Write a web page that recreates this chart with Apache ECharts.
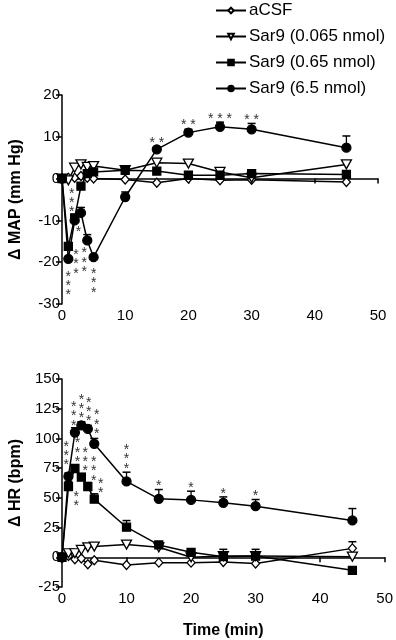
<!DOCTYPE html>
<html>
<head>
<meta charset="utf-8">
<script src="https://cdn.jsdelivr.net/npm/echarts@6/dist/echarts.min.js"></script>
<style>
html, body { margin: 0; background: #fff; }
#chart { width: 396px; height: 640px; }
</style>
</head>
<body>
<div id="chart"></div>
<script>
// time points (min)
const times = [0, 1, 2, 3, 4, 5, 10, 15, 20, 25, 30, 45];
const names = ['aCSF', 'Sar9 (0.065 nmol)', 'Sar9 (0.65 nmol)', 'Sar9 (6.5 nmol)'];

// delta MAP (mm Hg)
const mapCsf  = [0, 0.2, 0.2, 0.6, 0.2, 0, -0.2, -1, 0, -0.4, -0.3, -0.8];
const mapLow  = [0, -0.4, 2.6, 3.4, 2.8, 3, 2, 3.8, 3.6, 1.6, 0.2, 3.4];
const mapMid  = [0, -16.2, -9.4, -1.8, 1.2, 1.6, 2, 1.8, 0.8, 0.8, 1.2, 1.0];
const mapHigh = [0, -19.2, -10, -8.2, -14.8, -18.8, -4.4, 7, 11, 12.4, 11.8, 7.4];
const mapHighErr = [0, 0, 0, 1.3, 1.4, 0, 1.2, 0.6, 0.8, 1.1, 1.4, 2.8];
const mapMidErr  = [0, 0, 0.8, 0, 0, 0, 0, 0, 0, 0, 0, 0];

// delta HR (bpm)
const hrCsf  = [0, 1.1, -1.7, -1.1, -5.9, -2.5, -6.5, -4.5, -4.5, -3.9, -5.3, 7.5];
const hrLow  = [0, 3.4, 3.4, 6.2, 8.4, 9, 10.7, 8.4, 0, 1, 1, 0.5];
const hrMid  = [0, 59.5, 74.7, 67.4, 59.5, 48.9, 25.3, 10.4, 4.2, 0.5, 1, -11];
const hrHigh = [0, 68, 105, 111, 108, 95.5, 63.8, 49.2, 48.3, 45.8, 43, 31];
const hrHighErr = [0, 3, 4, 3, 3, 4.5, 7.8, 7.8, 7.3, 5, 5.6, 10];
const hrMidErr  = [0, 4.3, 3.1, 3, 3.5, 4.5, 5.6, 2.2, 2, 0, 0, 0];
const hrLowErr  = [0, 0, 0, 0, 0, 0, 2.3, 0, 0, 5.7, 5.7, 0];
const hrCsfErr  = [0, 0, 0, 0, 0, 0, 0, 0, 0, 0, 0, 5.6];

// significance marks: [time, value, text]
const mapStars = [
    [1, -25, '*\n*\n*'], [1.55, -5.2, '*\n*\n*'], [2.6, -12, '*'],
    [2.2, -19.8, '*\n*\n*'], [3.5, -19.4, '*\n*\n*'], [5, -24.4, '*\n*\n*'],
    [15, 9.2, '* *'], [20, 13.4, '* *'], [25, 15, '* * *'], [30, 14.8, '* *']
];
const hrStars = [
    [0.67, 87.6, '*\n*\n*'], [1.8, 121, '*\n*\n*'], [3, 127, '*\n*\n*'],
    [4.15, 124.7, '*\n*\n*'], [5.4, 114, '*\n*\n*'], [2.4, 90.4, '*\n*\n*'],
    [3.6, 82.6, '*\n*\n*'], [4.9, 74.7, '*\n*\n*'], [6, 60, '*\n*'],
    [2.2, 49.5, '*\n*'], [10, 84.8, '*\n*\n*'], [15, 62.4, '*'],
    [20, 60.4, '*'], [25, 55.6, '*'], [30, 54, '*']
];

const font = 'Liberation Sans, Arial, sans-serif';
const markers = [
    { symbol: 'diamond', symbolSize: [8, 9], fill: '#fff', rotate: 0 },
    { symbol: 'triangle', symbolSize: [10, 9], fill: '#fff', rotate: 180 },
    { symbol: 'rect', symbolSize: 8, fill: '#000', rotate: 0 },
    { symbol: 'circle', symbolSize: 9, fill: '#000', rotate: 0 }
];

const lineSeries = (idx, values, axis) => ({
    type: 'line',
    name: names[idx],
    xAxisIndex: axis,
    yAxisIndex: axis,
    data: times.map((t, i) => [t, values[i]]),
    symbol: markers[idx].symbol,
    symbolSize: markers[idx].symbolSize,
    symbolRotate: markers[idx].rotate,
    showSymbol: true,
    z: 3 + idx,
    lineStyle: { color: '#000', width: 1.5 },
    itemStyle: { color: markers[idx].fill, borderColor: '#000', borderWidth: 1.3 }
});

const errSeries = (values, errs, axis) => ({
    type: 'custom',
    xAxisIndex: axis,
    yAxisIndex: axis,
    silent: true,
    z: 2,
    data: times.map((t, i) => [t, values[i], values[i] + errs[i]]),
    renderItem: (params, api) => {
        if (api.value(2) === api.value(1)) return;
        const lo = api.coord([api.value(0), api.value(1)]);
        const hi = api.coord([api.value(0), api.value(2)]);
        return {
            type: 'group',
            children: [
                { type: 'line', shape: { x1: lo[0], y1: lo[1], x2: hi[0], y2: hi[1] }, style: { stroke: '#000', lineWidth: 1.3 } },
                { type: 'line', shape: { x1: hi[0] - 4, y1: hi[1], x2: hi[0] + 4, y2: hi[1] }, style: { stroke: '#000', lineWidth: 1.5 } }
            ]
        };
    }
});

const starSeries = (stars, axis) => ({
    type: 'custom',
    xAxisIndex: axis,
    yAxisIndex: axis,
    silent: true,
    z: 10,
    data: stars,
    renderItem: (params, api) => {
        const p = api.coord([api.value(0), api.value(1)]);
        return {
            type: 'text',
            style: {
                text: stars[params.dataIndex][2],
                x: p[0], y: p[1] + 3,
                align: 'center', verticalAlign: 'middle',
                font: '14px ' + font, lineHeight: 9.3, fill: '#333'
            }
        };
    }
});

const baseX = (grid, show) => ({
    type: 'value', gridIndex: grid, min: 0, max: 50, interval: 10,
    axisLine: { lineStyle: { color: '#000', width: 1.5 } },
    axisTick: { length: 5, lineStyle: { color: '#000', width: 1.5 } },
    axisLabel: { color: '#000', fontSize: 15, fontFamily: font, margin: 4 },
    splitLine: { show: false },
    name: show ? 'Time (min)' : '',
    nameLocation: 'middle', nameGap: 36,
    nameTextStyle: { color: '#000', fontSize: 16, fontWeight: 'bold', fontFamily: font }
});

const baseY = (grid, min, max, interval, title) => ({
    type: 'value', gridIndex: grid, min: min, max: max, interval: interval,
    axisLine: { show: true, lineStyle: { color: '#000', width: 1.5 } },
    axisTick: { show: true, length: 6, lineStyle: { color: '#000', width: 1.5 } },
    axisLabel: { color: '#000', fontSize: 15, fontFamily: font, margin: 2 },
    splitLine: { show: false },
    name: title, nameLocation: 'middle', nameGap: 38, nameRotate: 90,
    nameTextStyle: { color: '#000', fontSize: 16, fontWeight: 'bold', fontFamily: font }
});

const chart = echarts.init(document.getElementById('chart'));
chart.setOption({
    animation: false,
    backgroundColor: '#fff',
    legend: {
        data: names, orient: 'vertical', left: 210, top: -3,
        itemWidth: 30, itemHeight: 7, itemGap: 9,
        textStyle: { color: '#000', fontSize: 17, fontFamily: font, padding: [0, 0, 0, -2] },
        selectedMode: false
    },
    grid: [
        { left: 61, top: 95, width: 317, height: 209 },
        { left: 62, top: 379, width: 323, height: 208 }
    ],
    xAxis: [baseX(0, false), baseX(1, true)],
    yAxis: [
        baseY(0, -30, 20, 10, '\u0394 MAP (mm Hg)'),
        baseY(1, -25, 150, 25, '\u0394 HR (bpm)')
    ],
    series: [
        errSeries(mapHigh, mapHighErr, 0),
        errSeries(mapMid, mapMidErr, 0),
        lineSeries(0, mapCsf, 0),
        lineSeries(1, mapLow, 0),
        lineSeries(2, mapMid, 0),
        lineSeries(3, mapHigh, 0),
        starSeries(mapStars, 0),
        errSeries(hrHigh, hrHighErr, 1),
        errSeries(hrMid, hrMidErr, 1),
        errSeries(hrLow, hrLowErr, 1),
        errSeries(hrCsf, hrCsfErr, 1),
        lineSeries(0, hrCsf, 1),
        lineSeries(1, hrLow, 1),
        lineSeries(2, hrMid, 1),
        lineSeries(3, hrHigh, 1),
        starSeries(hrStars, 1)
    ]
});
</script>
</body>
</html>
